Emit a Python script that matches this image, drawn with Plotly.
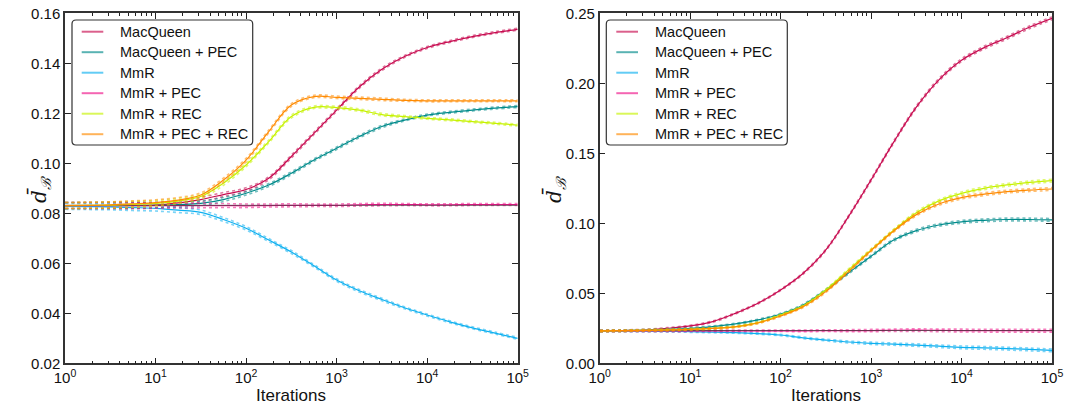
import plotly.graph_objects as go

# ---------------- data ----------------
iterations = [1, 1.78, 3.16, 5.62, 10, 17.8, 31.6, 56.2, 100, 178, 316, 562, 1000, 1778, 3162, 5623,
              10000, 17783, 31623, 56234, 100000]

series_names = ["MacQueen", "MacQueen + PEC", "MmR", "MmR + PEC", "MmR + REC", "MmR + PEC + REC"]
series_colors = ["#C70A4F", "#008B8B", "#0EB0F0", "#EE1289", "#C6F200", "#FF8A00"]

# Left panel
left_macqueen = [0.0831, 0.0831, 0.0831, 0.0832, 0.0833, 0.0842, 0.0855, 0.0875, 0.0895, 0.0940, 0.1027, 0.1120,
                 0.1213, 0.1305, 0.1376, 0.1427, 0.1463, 0.1487, 0.1507, 0.1523, 0.1536]
left_macqueen_pec = [0.0831, 0.0831, 0.0831, 0.0831, 0.0832, 0.0835, 0.0840, 0.0855, 0.0880, 0.0913, 0.0960, 0.1013,
                     0.1060, 0.1107, 0.1147, 0.1173, 0.1193, 0.1204, 0.1213, 0.1221, 0.1227]
left_mmr = [0.0828, 0.0827, 0.0826, 0.0823, 0.0820, 0.0813, 0.0804, 0.0775, 0.0740, 0.0693, 0.0645, 0.0590,
            0.0533, 0.0490, 0.0455, 0.0422, 0.0393, 0.0366, 0.0342, 0.0321, 0.0300]
left_mmr_pec = [0.0831, 0.0831, 0.0831, 0.0831, 0.0831, 0.0831, 0.0831, 0.0831, 0.0830, 0.0831, 0.0832, 0.0832,
                0.0832, 0.0834, 0.0835, 0.0835, 0.0834, 0.0834, 0.0835, 0.0835, 0.0835]
left_mmr_rec = [0.0831, 0.0832, 0.0833, 0.0836, 0.0840, 0.0849, 0.0867, 0.0920, 0.0993, 0.1087, 0.1187, 0.1224,
                0.1223, 0.1213, 0.1195, 0.1187, 0.1180, 0.1174, 0.1167, 0.1160, 0.1153]
left_mmr_pec_rec = [0.0831, 0.0832, 0.0834, 0.0838, 0.0843, 0.0853, 0.0873, 0.0933, 0.1013, 0.1127, 0.1233, 0.1267,
                    0.1264, 0.1260, 0.1256, 0.1252, 0.1250, 0.1250, 0.1250, 0.1250, 0.1250]
left_band = [0.0012, 0.0012, 0.0012, 0.0012, 0.0011, 0.0010, 0.0009, 0.0008, 0.0007, 0.0006, 0.0006, 0.0005,
             0.0005, 0.0005, 0.0005, 0.0004, 0.0004, 0.0004, 0.0004, 0.0004, 0.0004]

# Right panel
right_macqueen = [0.0231, 0.0234, 0.0238, 0.0250, 0.0267, 0.0298, 0.0357, 0.0429, 0.0524, 0.0643, 0.0810, 0.1048,
                  0.1310, 0.1580, 0.1830, 0.2025, 0.2165, 0.2255, 0.2325, 0.2400, 0.2464]
right_macqueen_pec = [0.0231, 0.0233, 0.0236, 0.0242, 0.0250, 0.0262, 0.0281, 0.0310, 0.0352, 0.0417, 0.0524, 0.0645,
                      0.0765, 0.0880, 0.0948, 0.0988, 0.1010, 0.1021, 0.1027, 0.1027, 0.1024]
right_mmr = [0.0231, 0.0230, 0.0229, 0.0228, 0.0226, 0.0223, 0.0219, 0.0212, 0.0202, 0.0182, 0.0166, 0.0152,
             0.0143, 0.0137, 0.0130, 0.0122, 0.0114, 0.0110, 0.0105, 0.0099, 0.0092]
right_mmr_pec = [0.0231, 0.0231, 0.0231, 0.0231, 0.0232, 0.0232, 0.0232, 0.0232, 0.0232, 0.0232, 0.0233, 0.0233,
                 0.0234, 0.0236, 0.0237, 0.0235, 0.0234, 0.0233, 0.0233, 0.0233, 0.0233]
right_mmr_rec = [0.0231, 0.0233, 0.0236, 0.0239, 0.0243, 0.0250, 0.0262, 0.0290, 0.0345, 0.0410, 0.0524, 0.0667,
                 0.0810, 0.0950, 0.1075, 0.1160, 0.1214, 0.1250, 0.1274, 0.1292, 0.1305]
right_mmr_pec_rec = [0.0231, 0.0233, 0.0235, 0.0238, 0.0242, 0.0249, 0.0260, 0.0288, 0.0338, 0.0405, 0.0512, 0.0655,
                     0.0805, 0.0945, 0.1062, 0.1138, 0.1183, 0.1208, 0.1226, 0.1237, 0.1245]
right_band = [0.0005, 0.0005, 0.0005, 0.0005, 0.0005, 0.0005, 0.0005, 0.0005, 0.0005, 0.0006, 0.0006, 0.0007,
              0.0008, 0.0008, 0.0009, 0.0009, 0.0010, 0.0010, 0.0010, 0.0010, 0.0010]

reference_x = [1, 100000]
reference_left = [0.0832, 0.0832]
reference_right = [0.0234, 0.0234]

left_values = [left_macqueen, left_macqueen_pec, left_mmr, left_mmr_pec, left_mmr_rec, left_mmr_pec_rec]
right_values = [right_macqueen, right_macqueen_pec, right_mmr, right_mmr_pec, right_mmr_rec, right_mmr_pec_rec]

y_left_ticks = [0.02, 0.04, 0.06, 0.08, 0.10, 0.12, 0.14, 0.16]
y_right_ticks = [0.00, 0.05, 0.10, 0.15, 0.20, 0.25]
x_ticks = [1, 10, 100, 1000, 10000, 100000]
x_tick_text = ["10<sup>0</sup>", "10<sup>1</sup>", "10<sup>2</sup>", "10<sup>3</sup>", "10<sup>4</sup>", "10<sup>5</sup>"]
x_minor = [m * d for d in [1, 10, 100, 1000, 10000] for m in range(2, 10)]

# ---------------- figure ----------------
FONT = "Liberation Sans, Arial, sans-serif"
W, H = 1066, 410
fig = go.Figure()


def hex_rgba(h, a):
    h = h.lstrip("#")
    return "rgba(%d,%d,%d,%.2f)" % (int(h[0:2], 16), int(h[2:4], 16), int(h[4:6], 16), a)


def px(x):
    return x / W


def py(y):
    return 1 - y / H


def add_panel(values, band, xa, ya, ref):
    for i, (name, col, vals) in enumerate(zip(series_names, series_colors, values)):
        upper = [v + b for v, b in zip(vals, band)]
        lower = [v - b for v, b in zip(vals, band)]
        for bvals in (upper, lower):
            fig.add_trace(go.Scatter(
                x=iterations, y=bvals, mode="lines", xaxis=xa, yaxis=ya,
                line=dict(color=hex_rgba(col, 0.55), width=1.6, dash="dot", shape="spline", smoothing=1.0),
                showlegend=False, hoverinfo="skip"))
        fig.add_trace(go.Scatter(
            x=iterations, y=vals, mode="lines", name=name, xaxis=xa, yaxis=ya,
            line=dict(color=col, width=1.2, shape="spline", smoothing=1.0),
            showlegend=False))
        if i == 3:
            fig.add_trace(go.Scatter(
                x=reference_x, y=ref, mode="lines", xaxis=xa, yaxis=ya,
                line=dict(color="rgba(60,60,60,0.75)", width=1), showlegend=False, hoverinfo="skip"))


add_panel(left_values, left_band, "x", "y", reference_left)
add_panel(right_values, right_band, "x2", "y2", reference_right)


def add_legend(x0, x1, y0, y1, sample_x0, sample_x1, text_x, row0, row_step):
    r = 4
    path = (f"M {px(x0 + r)} {py(y0)} L {px(x1 - r)} {py(y0)} Q {px(x1)} {py(y0)} {px(x1)} {py(y0 + r)} "
            f"L {px(x1)} {py(y1 - r)} Q {px(x1)} {py(y1)} {px(x1 - r)} {py(y1)} "
            f"L {px(x0 + r)} {py(y1)} Q {px(x0)} {py(y1)} {px(x0)} {py(y1 - r)} "
            f"L {px(x0)} {py(y0 + r)} Q {px(x0)} {py(y0)} {px(x0 + r)} {py(y0)} Z")
    fig.add_shape(type="path", path=path, xref="paper", yref="paper",
                  line=dict(color="#333333", width=1.2), fillcolor="white", layer="above")
    for k, (name, col) in enumerate(zip(series_names, series_colors)):
        yy = row0 + k * row_step
        fig.add_shape(type="line", xref="paper", yref="paper", x0=px(sample_x0), x1=px(sample_x1),
                      y0=py(yy), y1=py(yy), line=dict(color=hex_rgba(col, 0.65), width=2), layer="above")
        fig.add_annotation(text=name, x=px(text_x), y=py(yy), xref="paper", yref="paper",
                           xanchor="left", yanchor="middle", showarrow=False,
                           font=dict(family=FONT, size=14.5, color="#111111"))


add_legend(72, 252.7, 20, 145, 81.7, 103.3, 117.5, 31.7, 20.5)
add_legend(606.3, 787.3, 20, 145, 616.3, 638, 652.5, 31.7, 20.5)

axis_common = dict(
    showgrid=False, zeroline=False, showline=True, linecolor="#333333", linewidth=1.5,
    mirror="ticks", ticks="inside", ticklen=6, tickwidth=1, tickcolor="#222222", automargin=False,
    tickfont=dict(family=FONT, size=15, color="#111111"),
)
xaxis_common = dict(axis_common, type="log", range=[0, 5], tickvals=x_ticks, ticktext=x_tick_text,
                    minor=dict(tickvals=x_minor, ticks="inside", ticklen=3, tickcolor="#222222", showgrid=False))

L_dom = [65 / W, 517.7 / W]
R_dom = [599.7 / W, 1052 / W]
Y_dom = [(H - 363.3) / H, (H - 13.3) / H]

fig.update_layout(
    width=W, height=H,
    margin=dict(l=0, r=0, t=0, b=0, pad=0, autoexpand=False),
    paper_bgcolor="white", plot_bgcolor="white",
    font=dict(family=FONT, color="#111111"),
    xaxis=dict(xaxis_common, domain=L_dom, anchor="y"),
    yaxis=dict(axis_common, domain=Y_dom, anchor="x", range=[0.02, 0.16], tickvals=y_left_ticks, tickformat=".2f"),
    xaxis2=dict(xaxis_common, domain=R_dom, anchor="y2"),
    yaxis2=dict(axis_common, domain=Y_dom, anchor="x2", range=[0.0, 0.25], tickvals=y_right_ticks, tickformat=".2f"),
    showlegend=False,
)

ylabel = "<i>d̄</i><sub><i>ℬ</i></sub>"
for xp in (40, 555):
    fig.add_annotation(text=ylabel, x=px(xp), y=py(190), xref="paper", yref="paper",
                       xanchor="center", yanchor="middle",
                       textangle=-90, showarrow=False, font=dict(family="DejaVu Serif, serif", size=20, color="#111111"))
for xp in (291, 826):
    fig.add_annotation(text="Iterations", x=px(xp), y=py(395), xref="paper", yref="paper",
                       xanchor="center", yanchor="middle",
                       showarrow=False, font=dict(family=FONT, size=17, color="#111111"))

fig.write_html("out.html")
